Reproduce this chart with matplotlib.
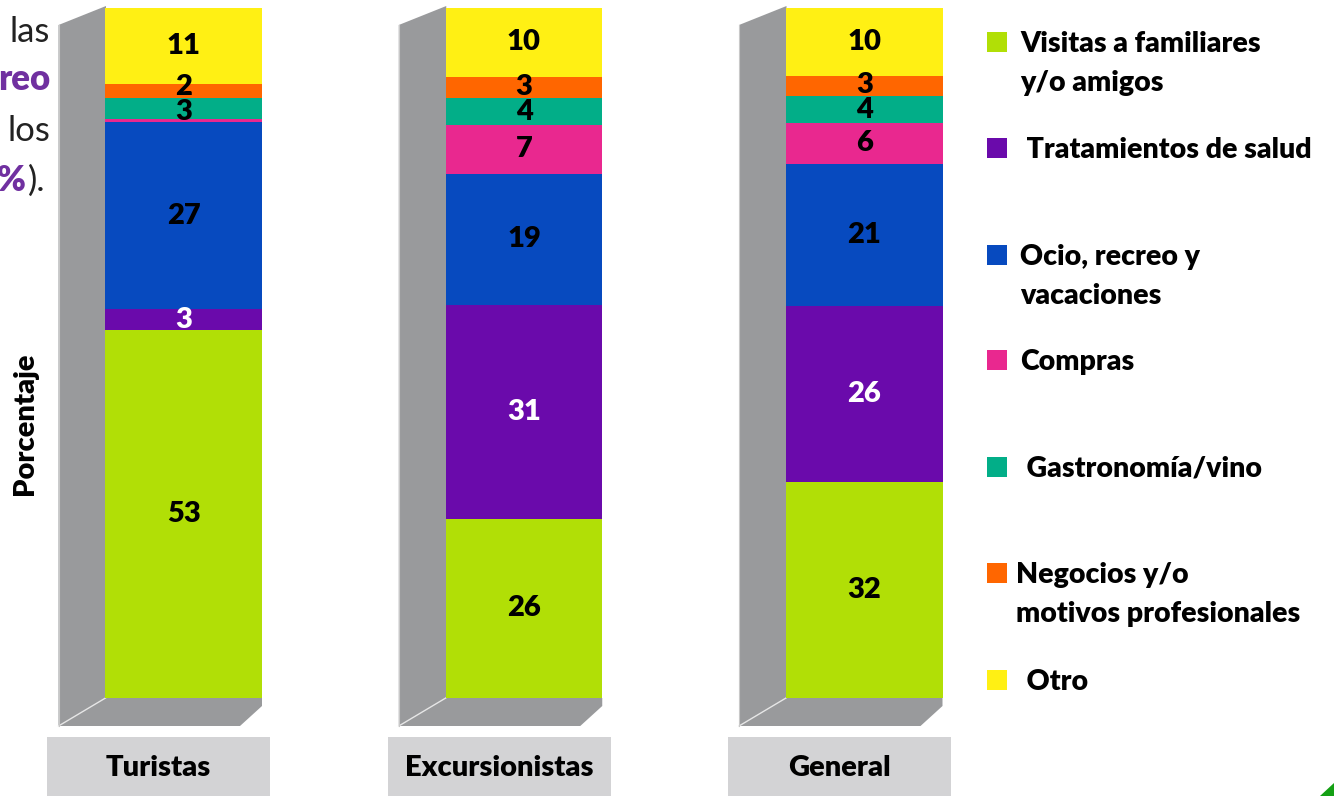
import numpy as np
import matplotlib
matplotlib.use("Agg")
import matplotlib.pyplot as plt
from matplotlib.patches import Polygon, Rectangle

plt.rcParams['font.family'] = ['Lato', 'DejaVu Sans']

W, H = 1334, 796

categories = ['Turistas', 'Excursionistas', 'General']

# porcentaje por motivo (de abajo hacia arriba)
visitas = [53, 26, 32]
salud = [3, 31, 26]
ocio = [27, 19, 21]
compras = [0.4, 7, 6]
gastro = [3, 4, 4]
negocios = [2, 3, 3]
otro = [11, 10, 10]

series = [visitas, salud, ocio, compras, gastro, negocios, otro]
colors = ['#b1df06', '#6a0aab', '#074abf', '#e9288f', '#02ae88', '#ff6600', '#fff014']
label_colors = ['black', 'white', 'black', 'black', 'black', 'black', 'black']

legend_labels = ['Visitas a familiares\ny/o amigos', ' Tratamientos de salud',
                 'Ocio, recreo y\nvacaciones', 'Compras', ' Gastronomía/vino',
                 'Negocios y/o\nmotivos profesionales', ' Otro']

GREY = '#999a9c'
BOLD = 'heavy'

fig = plt.figure(figsize=(W / 100, H / 100), dpi=100)
fig.patch.set_facecolor('white')

# ejes a toda la figura; 1 unidad x = 340.25 px, 1 % = 6.9 px
px_x, x0 = 340.25, 183.75
px_y, y0 = 6.9, 698
ax = fig.add_axes([0, 0, 1, 1])
ax.set_xlim(-x0 / px_x, (W - x0) / px_x)
ax.set_ylim(-(H - y0) / px_y, y0 / px_y)
ax.axis('off')


def dx(p):
    return p / px_x


def dy(p):
    return p / px_y


data = np.array(series, dtype=float)
data = data / data.sum(axis=0) * 100
xpos = np.arange(len(categories))
width = dx(156.5)

# paredes laterales y piso gris
for x in xpos:
    fl, fr = x - width / 2, x + width / 2
    wall = Polygon([(fl - dx(47), 100 - dy(17)), (fl + dx(0.5), 100 + dy(2)),
                    (fl + dx(0.5), 0), (fl - dx(47), -dy(28))],
                   closed=True, facecolor=GREY, edgecolor='none', zorder=1)
    floor = Polygon([(fl - dx(47), -dy(28)), (fl, 0), (fr, 0), (fr, -dy(8)),
                     (fr - dx(22), -dy(28))],
                    closed=True, facecolor=GREY, edgecolor='none', zorder=1)
    ax.add_patch(wall)
    ax.add_patch(floor)
    ax.plot([fl - dx(47), fl], [-dy(28), 0], color='#e6e6e6', lw=1, zorder=2)
    ax.plot([fl - dx(47), fl - dx(47)], [100 - dy(17), -dy(28)], color='#c8c8c8', lw=0.8, zorder=2)

    # caja de categoria
    ax.add_patch(Rectangle((x - dx(25) - dx(111.5), -dy(H - y0)), dx(223), dy(H - 737),
                           facecolor='#d3d3d5', edgecolor='none', zorder=1))
    ax.text(x - dx(25), -dy(70), categories[x], ha='center', va='center',
            fontsize=21, fontweight=BOLD, color='black', zorder=3)

# segmentos y posiciones de etiquetas
bottom = np.zeros(len(categories))
labels = [[] for _ in categories]
for vals, raw, c, lc in zip(data, series, colors, label_colors):
    ax.bar(xpos, vals, width, bottom=bottom, color=c, edgecolor='none', zorder=3)
    for i, (v, r) in enumerate(zip(vals, raw)):
        if r >= 1:
            labels[i].append([bottom[i] + v / 2, f'{r:g}', lc])
    bottom += vals

min_gap = dy(25)
for i, labs in enumerate(labels):
    for k in range(1, len(labs)):
        gap = labs[k][0] - labs[k - 1][0]
        if gap < min_gap:
            mid = (labs[k][0] + labs[k - 1][0]) / 2
            labs[k - 1][0] = mid - min_gap / 2
            labs[k][0] = mid + min_gap / 2
    for yy, txt, lc in labs:
        ax.text(xpos[i], yy, txt, ha='center', va='center',
                fontsize=21, fontweight=BOLD, color=lc, zorder=4)


def fx(p):
    return p / W


def fy(p):
    return 1 - p / H


# leyenda
sq_top = [32, 138, 245, 350, 457, 563, 670]
txt_x = [1020, 1020, 1020, 1020, 1020, 1016, 1020]
for lab, c, t, tx in zip(legend_labels, colors, sq_top, txt_x):
    fig.patches.append(Rectangle((fx(987), fy(t + 20)), fx(20), 20 / H, facecolor=c,
                                 edgecolor='none', transform=fig.transFigure, figure=fig))
    for k, line in enumerate(lab.split('\n')):
        fig.text(fx(tx), fy(t + 12 + 39 * k), line, ha='left', va='center', fontsize=20.5,
                 fontweight=BOLD, color='black')

# titulo del eje
fig.text(fx(25), fy(424), 'Porcentaje', rotation=90, ha='center', va='center',
         fontsize=21, fontweight=BOLD)

# texto recortado de la diapositiva
fig.text(fx(50), fy(42), 'las', ha='right', va='baseline', fontsize=25, color='#222222')
fig.text(fx(50), fy(90), 'reo', ha='right', va='baseline', fontsize=25, fontweight=BOLD, color='#7030a0')
fig.text(fx(50), fy(141), 'los', ha='right', va='baseline', fontsize=25, color='#222222')
fig.text(fx(45), fy(191), ').', ha='right', va='baseline', fontsize=25, color='#222222')
fig.text(fx(26), fy(191), '%', ha='right', va='baseline', fontsize=25, fontweight=BOLD, color='#7030a0')

# esquina verde
fig.patches.append(Polygon([(fx(1320), fy(796)), (fx(1334), fy(783)), (fx(1334), fy(796))],
                           closed=True, facecolor='#14a014', edgecolor='none',
                           transform=fig.transFigure, figure=fig))

fig.savefig('out.png', dpi=100)
